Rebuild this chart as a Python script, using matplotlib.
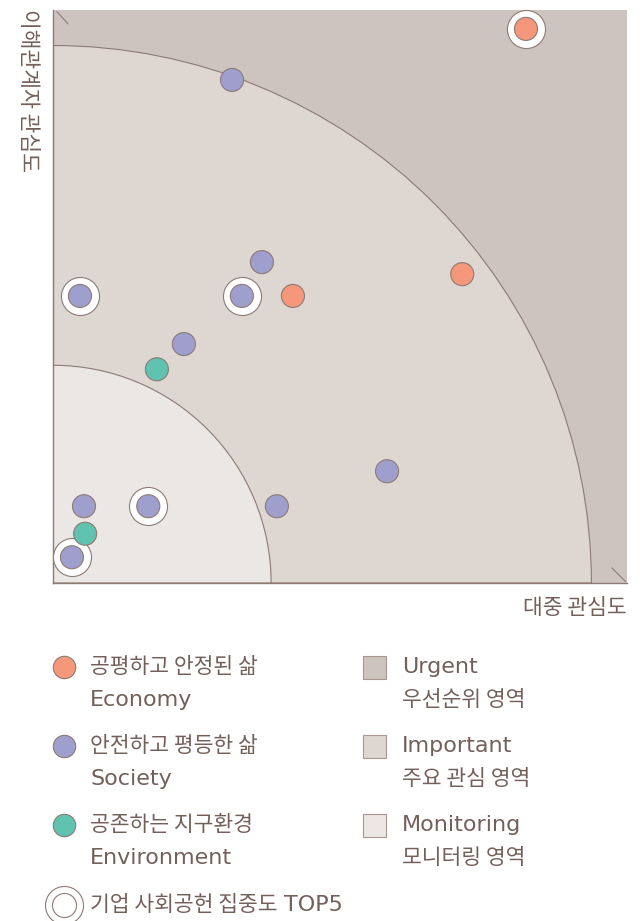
import numpy as np
import matplotlib
matplotlib.use('Agg')
import matplotlib.pyplot as plt
from matplotlib.patches import Wedge, Rectangle

plt.rcParams['font.family'] = ['Noto Sans CJK KR', 'DejaVu Sans']

# data (0-100 scale)
groups = ['Economy', 'Society', 'Environment']
xs = [82.4, 31.2, 36.4, 71.3, 4.7, 32.9, 41.8, 22.8, 18.1, 58.2, 5.4, 16.6, 39.0, 5.6, 3.3]
ys = [96.7, 87.8, 56.0, 53.9, 50.1, 50.1, 50.1, 41.7, 37.3, 19.5, 13.4, 13.4, 13.4, 8.6, 4.5]
grp = ['Economy', 'Society', 'Society', 'Economy', 'Society', 'Society', 'Economy', 'Society',
       'Environment', 'Society', 'Society', 'Society', 'Society', 'Environment', 'Society']
top5 = [True, False, False, False, True, True, False, False, False, False, False, True, False, False, True]
zone_radius = [93.8, 38.0]

colors = {'Economy': '#f4977a', 'Society': '#9f9fcd', 'Environment': '#5fc3b0'}
edge = '#8d7a74'
txt = '#74605a'
zone_colors = ['#cdc4bf', '#ddd6d1', '#ebe7e4']
ko_font = ['Noto Sans CJK KR', 'DejaVu Sans']
en_font = ['DejaVu Sans']

fig = plt.figure(figsize=(6.42, 9.21), dpi=100)
ax = fig.add_axes([53/642, (921-583)/921, 574/642, 573/921])
ax.set_xlim(0, 100)
ax.set_ylim(0, 100)
ax.set_facecolor(zone_colors[0])
for r, c in zip(zone_radius, zone_colors[1:]):
    ax.add_patch(Wedge((0, 0), r, 0, 90, facecolor=c, edgecolor=edge, lw=0.8, zorder=1))
for s in ['top', 'right']:
    ax.spines[s].set_visible(False)
for s in ['left', 'bottom']:
    ax.spines[s].set_color(edge)
    ax.spines[s].set_linewidth(1.0)
ax.set_xticks([])
ax.set_yticks([])

# corner decorations
ax.plot([0.007, 0.026], [0.997, 0.976], transform=ax.transAxes, color=edge, lw=0.8, clip_on=False)
ax.plot([0.974, 0.997], [0.026, 0.003], transform=ax.transAxes, color=edge, lw=0.8, clip_on=False)

xs = np.array(xs)
ys = np.array(ys)
t5 = np.array(top5)
ax.scatter(xs[t5], ys[t5], s=750, facecolor='white', edgecolor=edge, lw=0.8, zorder=3, clip_on=False)
ax.scatter(xs, ys, s=275, c=[colors[g] for g in grp], edgecolor=edge, lw=0.8, zorder=4, clip_on=False)

fig.text(28/642, 1 - 9/921, '이해관계자 관심도', rotation=270, ha='center', va='top',
         fontsize=15.5, color=txt, family=ko_font, fontweight='medium')
fig.text(627/642, 1 - 608/921, '대중 관심도', ha='right', va='center', fontsize=15.5, color=txt,
         family=ko_font, fontweight='medium')

# legend overlay in pixel coords
lg = fig.add_axes([0, 0, 1, 1])
lg.set_xlim(0, 642)
lg.set_ylim(921, 0)
lg.axis('off')
lg.patch.set_alpha(0)

left_items = [('공평하고 안정된 삶', 'Economy'), ('안전하고 평등한 삶', 'Society'), ('공존하는 지구환경', 'Environment')]
for i, (ko, en) in enumerate(left_items):
    y = 667 + i * 79
    lg.scatter([64], [y], s=260, c=colors[en], edgecolor=edge, lw=0.8)
    lg.text(90, y, ko, va='center', ha='left', fontsize=15.5, color=txt, family=ko_font,
            fontweight='medium')
    lg.text(90, y + 33, en, va='center', ha='left', fontsize=16, color=txt, family=en_font)

lg.scatter([64], [905], s=750, facecolor='white', edgecolor=edge, lw=0.8)
lg.scatter([64], [905], s=300, facecolor='white', edgecolor=edge, lw=0.8)
lg.text(90, 905, '기업 사회공헌 집중도', va='center', ha='left', fontsize=15.5, color=txt,
        family=ko_font, fontweight='medium')
lg.text(284, 905, 'TOP5', va='center', ha='left', fontsize=16, color=txt, family=en_font)

right_items = [('Urgent', '우선순위 영역'), ('Important', '주요 관심 영역'), ('Monitoring', '모니터링 영역')]
for i, (en, ko) in enumerate(right_items):
    y = 667 + i * 79
    lg.add_patch(Rectangle((363, y - 11.5), 23, 23, facecolor=zone_colors[i], edgecolor='#a8968f', lw=0.8))
    lg.text(402, y, en, va='center', ha='left', fontsize=16, color=txt, family=en_font)
    lg.text(402, y + 33, ko, va='center', ha='left', fontsize=15.5, color=txt, family=ko_font,
            fontweight='medium')

fig.savefig('out.png', dpi=100)
